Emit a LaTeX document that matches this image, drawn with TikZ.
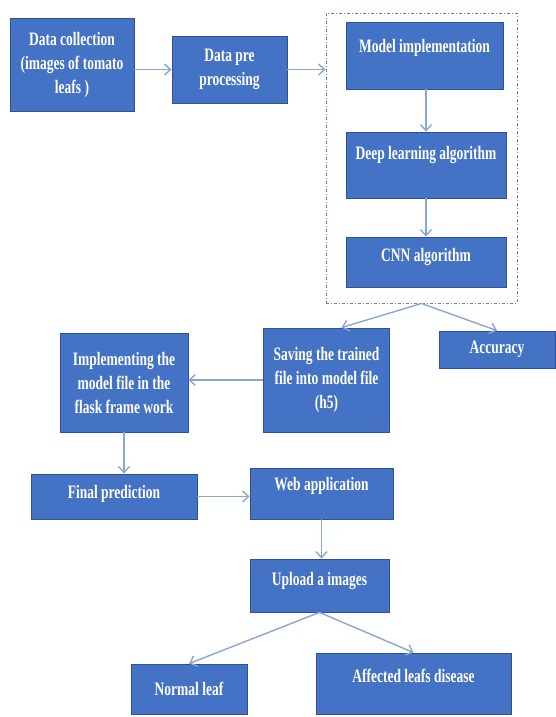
\documentclass[tikz,border=0pt]{standalone}
\usepackage{fontspec}
\setmainfont{Liberation Serif}[FakeStretch=0.71]
\usetikzlibrary{positioning,arrows.meta,calc}

\definecolor{boxblue}{HTML}{4472C4}
\definecolor{boxedge}{HTML}{2F528F}
\definecolor{arrowblue}{HTML}{8AA6D8}
\definecolor{groupgray}{HTML}{6F7E9C}

\begin{document}
\begin{tikzpicture}[x=1pt,y=-1pt,
	block/.style={rectangle, fill=boxblue, draw=boxedge, line width=0.8pt, text=white, font=\fontsize{19}{24}\selectfont\bfseries, align=center, inner sep=2pt},
	link/.style={draw=arrowblue, line width=1.4pt, -{Straight Barb[length=6pt,width=11pt]}},
	lift/.style={text depth=#1}]

	\useasboundingbox (0,0) rectangle (556,717);

	% dashed group round the model part
	\node[draw=groupgray, dash pattern=on 3pt off 2pt on 1pt off 2pt, line width=0.9pt, minimum width=191pt, minimum height=290pt] (group) at (421.5,158) {};

	% top row
	\node[block, minimum width=124pt, minimum height=93pt] (collect) at (72,64.5) {Data collection\\(images of tomato\\leafs )};
	\node[block, minimum width=115pt, minimum height=67pt] (preproc) at (229.5,69.5) {Data pre\\processing};

	% inside the group
	\node[block, minimum width=157pt, minimum height=67pt, lift=20pt] (modelimpl) at (424.5,55.5) {Model implementation};
	\node[block, minimum width=160pt, minimum height=66pt, lift=24pt] (deeplearn) at (426,165) {Deep learning algorithm};
	\node[block, minimum width=160pt, minimum height=50pt, lift=14pt] (cnn) at (426,262) {CNN algorithm};

	% middle row
	\node[block, minimum width=126pt, minimum height=104pt] (saving) at (326.5,380) {Saving the trained\\file into model file\\(h5)};
	\node[block, minimum width=116pt, minimum height=37pt] (accuracy) at (497,349.5) {Accuracy};
	\node[block, minimum width=128pt, minimum height=99pt] (flask) at (124,382.5) {Implementing the\\model file in the\\flask frame work};

	% lower part
	\node[block, minimum width=166pt, minimum height=45pt, lift=10pt] (final) at (114,496.5) {Final prediction};
	\node[block, minimum width=143pt, minimum height=51pt, lift=20pt] (webapp) at (321.5,493.5) {Web application};
	\node[block, minimum width=139pt, minimum height=53pt, lift=14pt] (upload) at (319.5,585.5) {Upload a images};
	\node[block, minimum width=116pt, minimum height=50pt] (normal) at (189,689) {Normal leaf};
	\node[block, minimum width=195pt, minimum height=61pt, lift=16pt] (affected) at (413.5,683.5) {Affected leafs disease};

	% connectors
	\draw[link] (collect.east |- preproc.west) -- (preproc.west);
	\draw[link] (preproc.east) -- (preproc.east -| group.west);
	\draw[link] (modelimpl.south -| deeplearn.north) -- (deeplearn.north);
	\draw[link] (deeplearn.south) -- (cnn.north);
	\draw[link] (group.south) -- ([xshift=15pt]saving.north);
	\draw[link] (group.south) -- (accuracy.north);
	\draw[link] (saving.west) -- (saving.west -| flask.east);
	\draw[link] (flask.south) -- (flask.south |- final.north);
	\draw[link] (final.east) -- (final.east -| webapp.west);
	\draw[link] (webapp.south) -- (webapp.south |- upload.north);
	\draw[link] (upload.south) -- (normal.north);
	\draw[link] (upload.south) -- (affected.north);

\end{tikzpicture}
\end{document}
